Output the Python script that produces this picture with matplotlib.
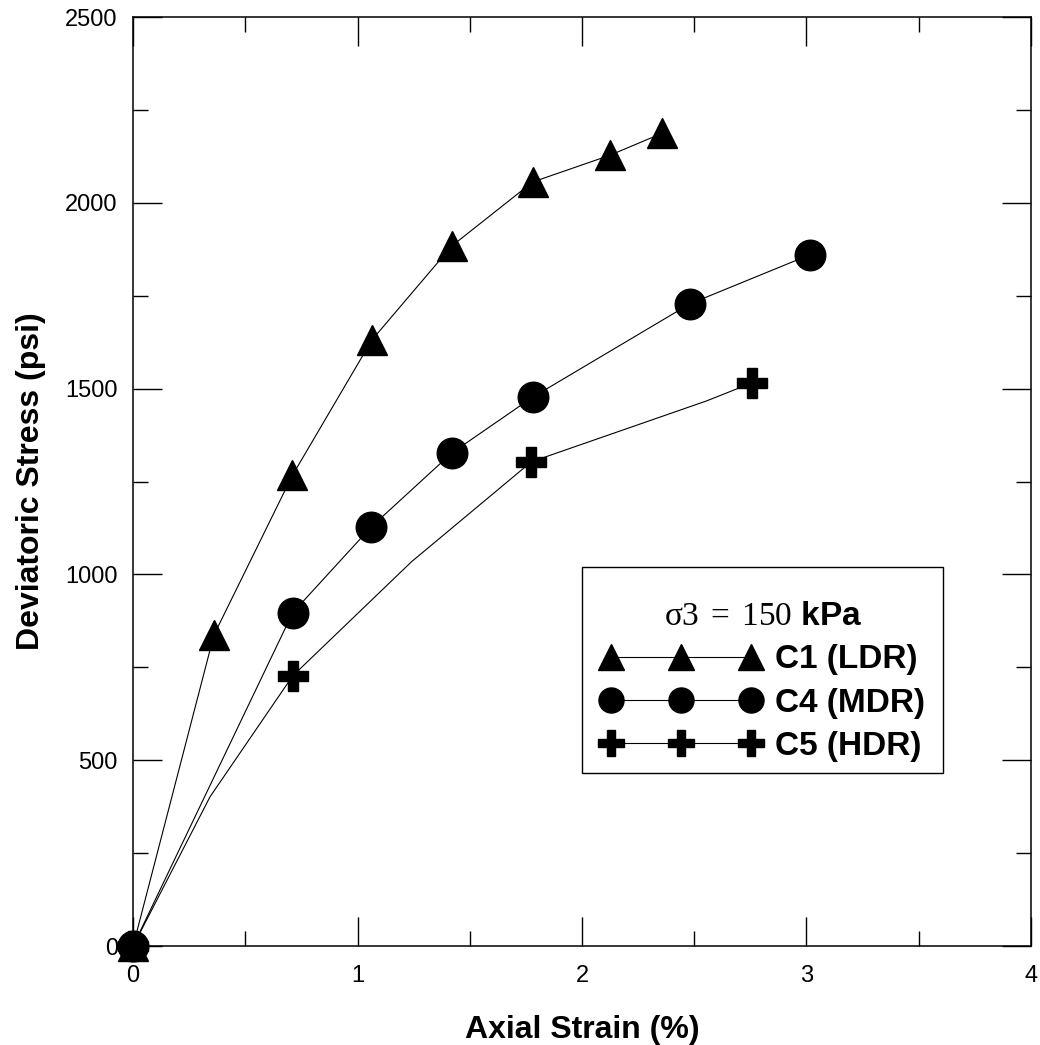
import matplotlib.pyplot as plt
from matplotlib.patches import Rectangle
from matplotlib.ticker import MultipleLocator

plt.rcParams['font.family'] = 'Liberation Sans'
plt.rcParams['mathtext.fontset'] = 'custom'
plt.rcParams['mathtext.rm'] = 'Liberation Serif'

# C1 (LDR)
c1_x = [0, 0.36, 0.71, 1.064, 1.42, 1.78, 2.124, 2.356]
c1_y = [0, 837, 1267, 1631, 1884, 2056, 2128, 2187]
# C4 (MDR)
c4_x = [0, 0.711, 1.061, 1.42, 1.78, 2.48, 3.014]
c4_y = [0, 897, 1128, 1327, 1477, 1728, 1860]
# C5 (HDR) - marked points and the line (has some unmarked points)
c5_x = [0, 0.711, 1.774, 2.755]
c5_y = [0, 727, 1303, 1515]
c5_line_x = [0, 0.343, 0.711, 1.24, 1.774, 2.555, 2.755]
c5_line_y = [0, 402, 727, 1034, 1303, 1467, 1515]

fig = plt.figure(figsize=(10.4, 10.45), dpi=100)
ax = fig.add_axes([0.128, 0.0947, 0.8633, 0.889])

lw = 0.8
ax.plot(c1_x, c1_y, color='black', lw=lw, marker='^', ms=22, label='C1 (LDR)', clip_on=False)
ax.plot(c4_x, c4_y, color='black', lw=lw, marker='o', ms=22, label='C4 (MDR)', clip_on=False)
ax.plot(c5_line_x, c5_line_y, color='black', lw=lw)
ax.plot(c5_x, c5_y, color='black', lw=0, marker='P', ms=22, clip_on=False)
# legend proxy for C5 (line + cross)
ax.plot([], [], color='black', lw=lw, marker='P', ms=22, label='C5 (HDR)')

ax.set_xlim(0, 4)
ax.set_ylim(0, 2500)
ax.xaxis.set_major_locator(MultipleLocator(1))
ax.xaxis.set_minor_locator(MultipleLocator(0.5))
ax.yaxis.set_major_locator(MultipleLocator(500))
ax.yaxis.set_minor_locator(MultipleLocator(250))
ax.tick_params(which='both', direction='in', top=True, right=True, width=1)
ax.tick_params(which='major', length=21, labelsize=17)
ax.tick_params(axis='x', which='major', pad=14)
ax.tick_params(axis='y', which='major', pad=11)
ax.tick_params(which='minor', length=11)
for s in ax.spines.values():
    s.set_linewidth(1.1)

ax.set_xlabel('Axial Strain (%)', fontsize=23, fontweight='bold', labelpad=20)
ax.set_ylabel('Deviatoric Stress (psi)', fontsize=23, fontweight='bold', labelpad=14)

# legend box drawn separately so the padding can differ horizontally/vertically
ax.add_patch(Rectangle((0.5, 0.186), 0.402, 0.222, transform=ax.transAxes,
                       facecolor='white', edgecolor='black', lw=1, zorder=4))
leg = ax.legend(loc='upper left', bbox_to_anchor=(0.51, 0.408), borderaxespad=0,
                title='\n' + r'$\mathrm{\sigma3\,=\,150}$ kPa', numpoints=3, markerscale=0.82,
                handlelength=4.8, handletextpad=0.4, labelspacing=0.37,
                borderpad=0.31, frameon=False,
                prop={'size': 24, 'weight': 'bold'},
                title_fontproperties={'size': 24, 'weight': 'bold'})
leg.get_title().set_linespacing(0.7)
leg.set_zorder(5)

fig.savefig('out.png', dpi=100)
